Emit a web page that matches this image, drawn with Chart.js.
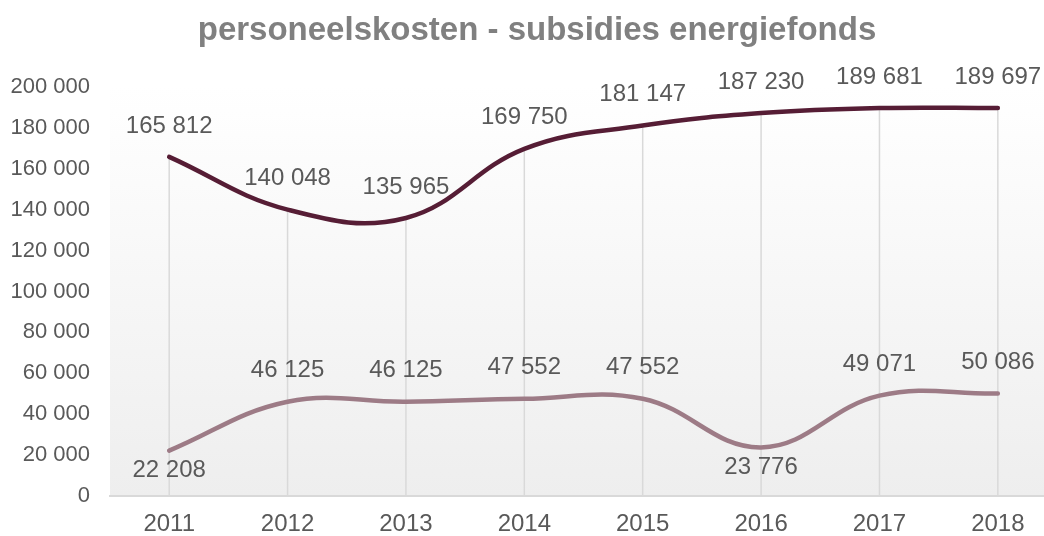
<!DOCTYPE html>
<html>
<head>
<meta charset="utf-8">
<script src="https://cdn.jsdelivr.net/npm/chart.js@4/dist/chart.umd.min.js"></script>
<style>
  body { margin: 0; background: #fff; }
  canvas { display: block; }
</style>
</head>
<body>
<canvas id="chart" width="1044" height="536"></canvas>
<script>
// waarden
const years = ['2011', '2012', '2013', '2014', '2015', '2016', '2017', '2018'];
const personeelskosten = [165812, 140048, 135965, 169750, 181147, 187230, 189681, 189697];
const subsidies = [22208, 46125, 46125, 47552, 47552, 23776, 49071, 50086];
const yTicks = [0, 20000, 40000, 60000, 80000, 100000, 120000, 140000, 160000, 180000, 200000];
const titel = 'personeelskosten - subsidies energiefonds';

const fmt = v => String(v).replace(/\B(?=(\d{3})+(?!\d))/g, ' ');
const toPoints = arr => arr.map((v, i) => ({ x: Number(years[i]), y: v }));

// achtergrond met verloop in het plotgebied
const plotBg = {
  id: 'plotBg',
  beforeDraw(chart) {
    const { ctx, chartArea: a } = chart;
    const g = ctx.createLinearGradient(0, a.top, 0, a.bottom);
    g.addColorStop(0, '#ffffff');
    g.addColorStop(1, '#eeeeee');
    ctx.save();
    ctx.fillStyle = g;
    ctx.fillRect(a.left, a.top, a.right - a.left, a.bottom - a.top);
    ctx.restore();
  }
};

// verticale lijnen van het hoogste punt naar de as
const dropLines = {
  id: 'dropLines',
  beforeDatasetsDraw(chart) {
    const { ctx, scales: { x, y } } = chart;
    ctx.save();
    ctx.strokeStyle = '#d9d9d9';
    ctx.lineWidth = 1.5;
    years.forEach((yr, i) => {
      const top = Math.max(personeelskosten[i], subsidies[i]);
      const px = x.getPixelForValue(Number(yr));
      ctx.beginPath();
      ctx.moveTo(px, y.getPixelForValue(top));
      ctx.lineTo(px, y.getPixelForValue(0));
      ctx.stroke();
    });
    ctx.restore();
  }
};

// gegevenslabels + titel
const valueLabels = {
  id: 'valueLabels',
  afterDatasetsDraw(chart) {
    const { ctx } = chart;
    ctx.save();
    ctx.font = '24px "Liberation Sans", Arial, sans-serif';
    ctx.fillStyle = '#595959';
    ctx.textAlign = 'center';
    ctx.textBaseline = 'middle';
    chart.data.datasets.forEach((ds, di) => {
      chart.getDatasetMeta(di).data.forEach((pt, i) => {
        const below = ds.labelAlign[i] === 'below';
        ctx.fillText(fmt(ds.data[i].y), pt.x, pt.y + (below ? 20 : -31));
      });
    });
    // titel staat iets rechts van het midden, zoals in het origineel
    ctx.font = 'bold 33px "Liberation Sans", Arial, sans-serif';
    ctx.fillStyle = '#808080';
    ctx.fillText(titel, 537, 31);
    ctx.restore();
  }
};

new Chart(document.getElementById('chart'), {
  type: 'line',
  data: {
    datasets: [
      {
        label: 'personeelskosten',
        data: toPoints(personeelskosten),
        borderColor: '#561d35',
        borderWidth: 4.5,
        tension: 0.4,
        pointRadius: 0,
        borderCapStyle: 'round',
        labelAlign: ['above', 'above', 'above', 'above', 'above', 'above', 'above', 'above']
      },
      {
        label: 'subsidies energiefonds',
        data: toPoints(subsidies),
        borderColor: '#9d7b86',
        borderWidth: 4.5,
        tension: 0.4,
        pointRadius: 0,
        borderCapStyle: 'round',
        labelAlign: ['below', 'above', 'above', 'above', 'above', 'below', 'above', 'above']
      }
    ]
  },
  options: {
    responsive: false,
    animation: false,
    layout: { padding: { top: 87 } },
    plugins: {
      legend: { display: false },
      tooltip: { enabled: false },
      title: { display: false }
    },
    scales: {
      x: {
        type: 'linear',
        min: 2010.5,
        max: 2018.39,
        afterBuildTicks: s => { s.ticks = years.map(v => ({ value: Number(v) })); },
        afterFit: s => { s.height = 40; },
        grid: { display: false, drawTicks: false },
        border: { display: true, color: '#d9d9d9', width: 2 },
        ticks: {
          color: '#595959',
          padding: 14,
          maxRotation: 0,
          font: { family: '"Liberation Sans", Arial, sans-serif', size: 24 },
          callback: v => String(v)
        }
      },
      y: {
        min: 0,
        max: 200000,
        afterBuildTicks: s => { s.ticks = yTicks.map(v => ({ value: v })); },
        afterFit: s => { s.width = 110; },
        grid: { display: false, drawTicks: false },
        border: { display: false },
        ticks: {
          color: '#595959',
          padding: 20,
          font: { family: '"Liberation Sans", Arial, sans-serif', size: 22 },
          callback: v => fmt(v)
        }
      }
    }
  },
  plugins: [plotBg, dropLines, valueLabels]
});
</script>
</body>
</html>
